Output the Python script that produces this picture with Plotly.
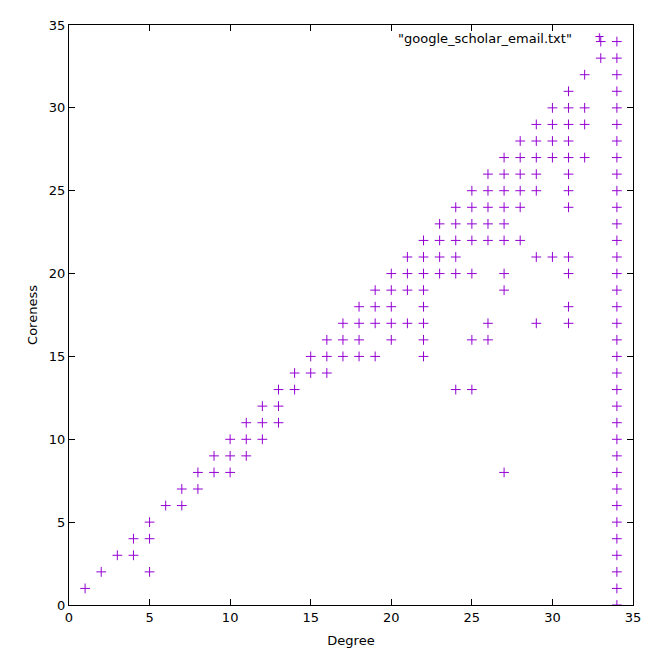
import plotly.graph_objects as go

# coreness values observed for each degree
coreness_by_degree = {
    1: [1],
    2: [2],
    3: [3],
    4: [3, 4],
    5: [2, 4, 5],
    6: [6],
    7: [6, 7],
    8: [7, 8],
    9: [8, 9],
    10: [8, 9, 10],
    11: [9, 10, 11],
    12: [10, 11, 12],
    13: [11, 12, 13],
    14: [13, 14],
    15: [14, 15],
    16: [14, 15, 16],
    17: [15, 16, 17],
    18: [15, 16, 17, 18],
    19: [15, 17, 18, 19],
    20: [16, 17, 18, 19, 20],
    21: [17, 19, 20, 21],
    22: [15, 16, 17, 18, 19, 20, 21, 22],
    23: [20, 21, 22, 23],
    24: [13, 20, 21, 22, 23, 24],
    25: [13, 16, 20, 22, 23, 24, 25],
    26: [16, 17, 22, 23, 24, 25, 26],
    27: [8, 19, 20, 22, 23, 24, 25, 26, 27],
    28: [22, 24, 25, 26, 27, 28],
    29: [17, 21, 25, 26, 27, 28, 29],
    30: [21, 27, 28, 29, 30],
    31: [17, 18, 20, 21, 24, 25, 26, 27, 28, 29, 30, 31],
    32: [27, 29, 30, 32],
    33: [33, 34],
    34: list(range(0, 35)),
}

degree = []
coreness = []
for d, cs in coreness_by_degree.items():
    for c in cs:
        degree.append(d)
        coreness.append(c)

series_name = '"google_scholar_email.txt"'
purple = '#9400d3'

fig = go.Figure(go.Scatter(x=degree,
                           y=coreness,
                           mode='markers',
                           showlegend=False,
                           marker=dict(symbol='cross-thin', size=7,
                                       line=dict(color=purple, width=1))))

axis_style = dict(range=[0, 35], dtick=5, showgrid=False, zeroline=False,
                  showline=True, linecolor='black', linewidth=1, mirror='allticks',
                  ticks='inside', ticklen=6, tickcolor='black', automargin=False,
                  tickfont=dict(size=13, color='black'))

fig.update_layout(width=650, height=651,
                  margin=dict(l=61, r=25, t=17, b=54, autoexpand=False),
                  plot_bgcolor='white', paper_bgcolor='white',
                  font=dict(family='DejaVu Sans', color='black'),
                  xaxis=dict(title=dict(text='Degree', font=dict(size=13), standoff=12), **axis_style),
                  yaxis=dict(title=dict(text='Coreness', font=dict(size=13), standoff=8), **axis_style))

# key text plus sample marker, gnuplot-style
fig.add_annotation(x=0.895, y=0.993, xref='paper', yref='paper',
                   xanchor='right', yanchor='top', showarrow=False,
                   text=series_name, font=dict(size=13, color='black'))
fig.add_annotation(x=0.941, y=0.996, xref='paper', yref='paper',
                   xanchor='center', yanchor='top', showarrow=False,
                   text='+', font=dict(size=13, color=purple))

fig.write_html("out.html")
